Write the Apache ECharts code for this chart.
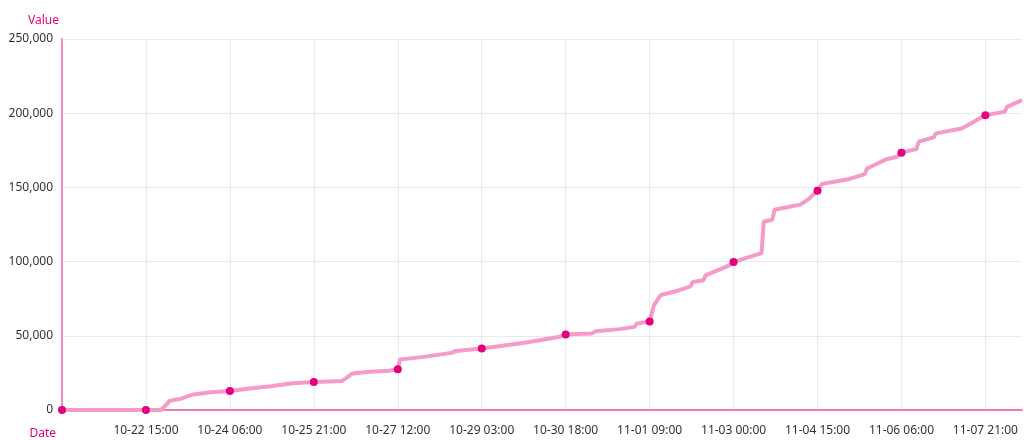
<!DOCTYPE html>
<html>
<head>
<meta charset="utf-8">
<script src="https://cdn.jsdelivr.net/npm/echarts@6/dist/echarts.min.js"></script>
<style>
html,body{margin:0;padding:0;background:#fff;}
#chart{width:1024px;height:440px;}
</style>
</head>
<body>
<div id="chart"></div>
<script>
// Hourly categories from 10-21 00:00 to 11-08 14:00
const startDate = {year: 2023, month: 10, day: 21};
const hourCount = 447;
const labelInterval = 39; // hours between tick labels

// Series points: hour offset (category index) and cumulative value
const pointHours = [0,39,46,48,50,55,61,69,78,87,97,107,117,124,130,132,135,143,152,156,157,168,181,183,195,203,214,224,231,234,246,248,259,266,267,273,275,278,285,292,293,298,299,310,312,319,325,326,330,331,343,347,351,353,366,373,374,383,388,390,397,398,405,406,418,423,429,438,439,446];
const pointValues = [0,0,0,3000,6200,7500,10500,12000,12800,14500,16000,18000,18800,19200,19500,21500,24600,25800,26400,27500,34000,35800,38500,39800,41400,43000,45200,47500,49300,50900,51500,53100,54500,56000,58200,59700,70600,77300,80000,83300,86200,87400,90700,97400,99700,103000,105700,127000,128200,134900,138400,142300,147800,152300,155700,159000,162700,169000,170700,173400,175900,180800,183700,186400,189700,193700,198700,201000,204300,208800];

const categories = [];
{
  const base = new Date(Date.UTC(startDate.year, startDate.month - 1, startDate.day, 0, 0, 0));
  for (let h = 0; h < hourCount; h++) {
    const d = new Date(base.getTime() + h * 3600000);
    const mm = String(d.getUTCMonth() + 1).padStart(2, '0');
    const dd = String(d.getUTCDate()).padStart(2, '0');
    const hh = String(d.getUTCHours()).padStart(2, '0');
    categories.push(mm + '-' + dd + ' ' + hh + ':00');
  }
}

const seriesData = pointHours.map((h, i) => ({
  value: [h, pointValues[i]],
  symbol: (h % labelInterval === 0) ? 'circle' : 'none'
}));

const chart = echarts.init(document.getElementById('chart'), null, {renderer: 'canvas'});
const font = '"Noto Sans", sans-serif';
chart.setOption({
  animation: false,
  backgroundColor: '#ffffff',
  textStyle: {fontFamily: font},
  grid: {left: 62, right: 2, top: 39, bottom: 29, containLabel: false},
  xAxis: {
    type: 'category',
    data: categories,
    boundaryGap: false,
    name: 'Date',
    nameLocation: 'start',
    nameGap: 6,
    nameTextStyle: {color: '#e6007e', fontSize: 12, fontFamily: font, align: 'right', verticalAlign: 'top', padding: [18, 0, 0, 0]},
    axisLine: {show: true, lineStyle: {color: '#f07ab6', width: 2}},
    axisTick: {show: false},
    axisLabel: {
      interval: labelInterval - 1,
      showMinLabel: false,
      color: '#333',
      fontSize: 12,
      fontFamily: font,
      margin: 15
    },
    splitLine: {show: true, interval: labelInterval - 1, lineStyle: {color: '#e9e9f3', width: 1}}
  },
  yAxis: {
    type: 'value',
    min: 0,
    max: 250000,
    interval: 50000,
    name: 'Value',
    nameGap: 12,
    nameTextStyle: {color: '#e6007e', fontSize: 12, fontFamily: font, align: 'right', padding: [0, 3, 0, 0]},
    axisLine: {show: true, lineStyle: {color: '#f08cc2', width: 2}},
    axisTick: {show: false},
    axisLabel: {
      color: '#333',
      fontSize: 12,
      fontFamily: font,
      margin: 9,
      formatter: v => v.toLocaleString('en-US')
    },
    splitLine: {show: true, lineStyle: {color: '#e9e9f3', width: 1}}
  },
  series: [{
    type: 'line',
    data: seriesData,
    showSymbol: true,
    showAllSymbol: true,
    symbolSize: 8,
    lineStyle: {color: '#f59ac9', width: 4},
    itemStyle: {color: '#e4007f'},
    z: 3
  }]
});
</script>
</body>
</html>
